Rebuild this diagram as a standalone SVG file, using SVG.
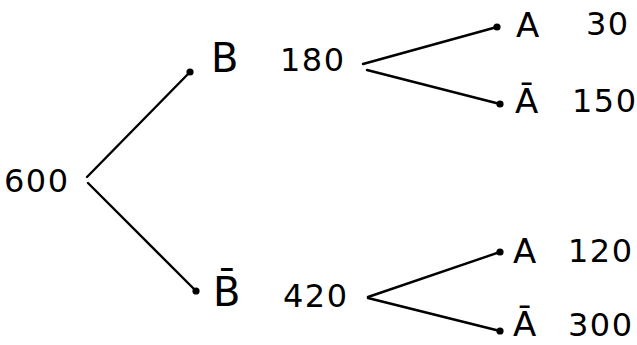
<svg xmlns="http://www.w3.org/2000/svg" width="637" height="345" viewBox="0 0 637 345">
<style>
.n{font-family:"DejaVu Sans","Liberation Sans",sans-serif;font-size:32px;letter-spacing:1.5px;fill:#000}
.b{font-family:"DejaVu Sans","Liberation Sans",sans-serif;font-size:40px;fill:#000}
.a{font-family:"DejaVu Sans","Liberation Sans",sans-serif;font-size:34px;fill:#000}
.l{fill:none;stroke:#000;stroke-width:2.4;stroke-linecap:round}
</style>
<defs>
<marker id="dot" viewBox="0 0 10 10" refX="5" refY="5" markerWidth="3" markerHeight="3" markerUnits="strokeWidth"><circle cx="5" cy="5" r="5" fill="#000"/></marker>
</defs>
<rect width="637" height="345" fill="#fff"/>
<g id="connectors">
<path class="l" d="M87 177 L190 72" marker-end="url(#dot)"/>
<path class="l" d="M88 183 L196 291" marker-end="url(#dot)"/>
<path class="l" d="M363 64 L497 27" marker-end="url(#dot)"/>
<path class="l" d="M367 70 L500 104" marker-end="url(#dot)"/>
<path class="l" d="M368 297 L500 252" marker-end="url(#dot)"/>
<path class="l" d="M368 298 L500 331" marker-end="url(#dot)"/>
</g>
<g id="root"><text class="n" x="4" y="192">600</text></g>
<g id="B"><text class="b" x="211" y="72">B</text><text class="n" x="280" y="71">180</text></g>
<g id="Bbar"><text class="b" x="213" y="306">B̄</text><text class="n" x="283" y="307">420</text></g>
<g id="A1"><text class="a" x="516" y="37">A</text><text class="n" x="586" y="35">30</text></g>
<g id="Abar1"><text class="a" x="515" y="113">Ā</text><text class="n" x="572" y="112">150</text></g>
<g id="A2"><text class="a" x="513" y="263">A</text><text class="n" x="568" y="262">120</text></g>
<g id="Abar2"><text class="a" x="513" y="336">Ā</text><text class="n" x="568" y="336">300</text></g>
</svg>
